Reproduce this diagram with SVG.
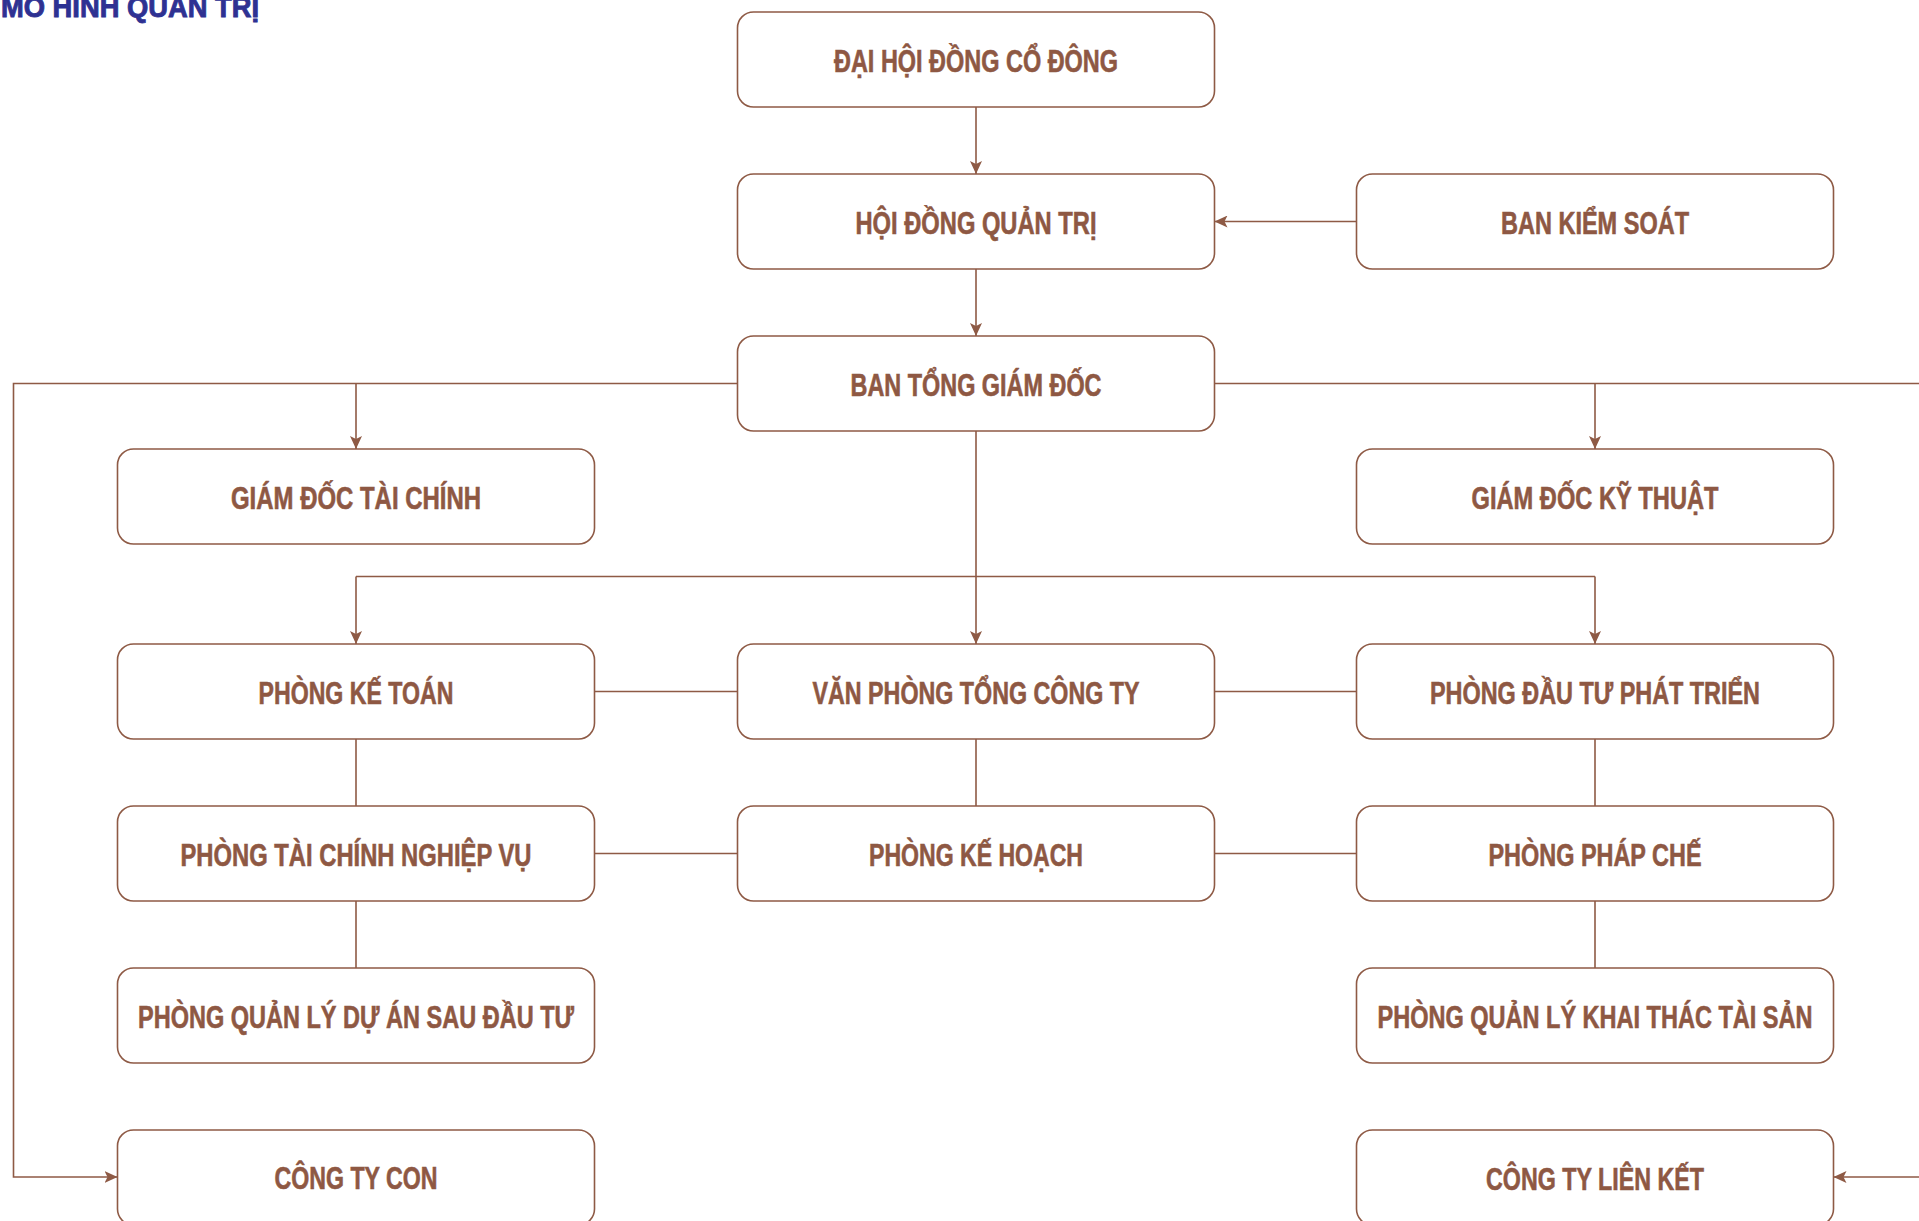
<svg xmlns="http://www.w3.org/2000/svg" width="1919" height="1221" viewBox="0 0 1919 1221">
<defs>
<marker id="arr" markerUnits="userSpaceOnUse" markerWidth="14" markerHeight="12" refX="13" refY="6" orient="auto">
<path d="M0,0 L13,6 L0,12 L3,6 z" fill="#8e5a45"/>
</marker>
<style>
.box{fill:#ffffff;stroke:#8e5a45;stroke-width:1.6}
.lbl{font-family:"Liberation Sans Narrow","Liberation Sans",Arial,sans-serif;font-weight:bold;font-size:31px;fill:#8e5843;stroke:#8e5843;stroke-width:0.6;text-anchor:middle}
.ln{fill:none;stroke:#8e5a45;stroke-width:1.6}
.title{font-family:"Liberation Sans",Arial,sans-serif;font-weight:bold;font-size:29px;fill:#2e3192;stroke:#2e3192;stroke-width:0.9}
</style>
</defs>
<rect width="1919" height="1221" fill="#ffffff"/>
<text class="title" x="1" y="17" textLength="258" lengthAdjust="spacingAndGlyphs">MÔ HÌNH QUẢN TRỊ</text>

<g id="connectors">
<path class="ln" d="M976,107 V174" marker-end="url(#arr)"/>
<path class="ln" d="M1356.5,221.5 H1214.5" marker-end="url(#arr)"/>
<path class="ln" d="M976,269 V336" marker-end="url(#arr)"/>
<path class="ln" d="M737.5,383.5 H13.5 V1177 H117.5" marker-end="url(#arr)"/>
<path class="ln" d="M356,383.5 V449" marker-end="url(#arr)"/>
<path class="ln" d="M1214.5,383.5 H1935 V1177 H1833.5" marker-end="url(#arr)"/>
<path class="ln" d="M1595,383.5 V449" marker-end="url(#arr)"/>
<path class="ln" d="M976,431 V644" marker-end="url(#arr)"/>
<path class="ln" d="M356,576.5 H1595"/>
<path class="ln" d="M356,576.5 V644" marker-end="url(#arr)"/>
<path class="ln" d="M1595,576.5 V644" marker-end="url(#arr)"/>
<path class="ln" d="M594.5,691.5 H737.5 M1214.5,691.5 H1356.5"/>
<path class="ln" d="M594.5,853.5 H737.5 M1214.5,853.5 H1356.5"/>
<path class="ln" d="M356,739 V806 M976,739 V806 M1595,739 V806 M356,901 V968 M1595,901 V968"/>
</g>

<g id="dhdcd"><rect class="box" x="737.5" y="12" width="477" height="95" rx="16"/><text class="lbl" x="976" y="72" textLength="284" lengthAdjust="spacingAndGlyphs">ĐẠI HỘI ĐỒNG CỔ ĐÔNG</text></g>
<g id="hdqt"><rect class="box" x="737.5" y="174" width="477" height="95" rx="16"/><text class="lbl" x="976" y="234" textLength="241" lengthAdjust="spacingAndGlyphs">HỘI ĐỒNG QUẢN TRỊ</text></g>
<g id="bks"><rect class="box" x="1356.5" y="174" width="477" height="95" rx="16"/><text class="lbl" x="1595" y="234" textLength="188" lengthAdjust="spacingAndGlyphs">BAN KIỂM SOÁT</text></g>
<g id="btgd"><rect class="box" x="737.5" y="336" width="477" height="95" rx="16"/><text class="lbl" x="976" y="396" textLength="251" lengthAdjust="spacingAndGlyphs">BAN TỔNG GIÁM ĐỐC</text></g>
<g id="gdtc"><rect class="box" x="117.5" y="449" width="477" height="95" rx="16"/><text class="lbl" x="356" y="509" textLength="250" lengthAdjust="spacingAndGlyphs">GIÁM ĐỐC TÀI CHÍNH</text></g>
<g id="gdkt"><rect class="box" x="1356.5" y="449" width="477" height="95" rx="16"/><text class="lbl" x="1595" y="509" textLength="247" lengthAdjust="spacingAndGlyphs">GIÁM ĐỐC KỸ THUẬT</text></g>
<g id="pkt"><rect class="box" x="117.5" y="644" width="477" height="95" rx="16"/><text class="lbl" x="356" y="704" textLength="195" lengthAdjust="spacingAndGlyphs">PHÒNG KẾ TOÁN</text></g>
<g id="vptct"><rect class="box" x="737.5" y="644" width="477" height="95" rx="16"/><text class="lbl" x="976" y="704" textLength="327" lengthAdjust="spacingAndGlyphs">VĂN PHÒNG TỔNG CÔNG TY</text></g>
<g id="pdtpt"><rect class="box" x="1356.5" y="644" width="477" height="95" rx="16"/><text class="lbl" x="1595" y="704" textLength="330" lengthAdjust="spacingAndGlyphs">PHÒNG ĐẦU TƯ PHÁT TRIỂN</text></g>
<g id="ptcnv"><rect class="box" x="117.5" y="806" width="477" height="95" rx="16"/><text class="lbl" x="356" y="866" textLength="351" lengthAdjust="spacingAndGlyphs">PHÒNG TÀI CHÍNH NGHIỆP VỤ</text></g>
<g id="pkh"><rect class="box" x="737.5" y="806" width="477" height="95" rx="16"/><text class="lbl" x="976" y="866" textLength="214" lengthAdjust="spacingAndGlyphs">PHÒNG KẾ HOẠCH</text></g>
<g id="ppc"><rect class="box" x="1356.5" y="806" width="477" height="95" rx="16"/><text class="lbl" x="1595" y="866" textLength="213" lengthAdjust="spacingAndGlyphs">PHÒNG PHÁP CHẾ</text></g>
<g id="pqlda"><rect class="box" x="117.5" y="968" width="477" height="95" rx="16"/><text class="lbl" x="356" y="1028" textLength="436" lengthAdjust="spacingAndGlyphs">PHÒNG QUẢN LÝ DỰ ÁN SAU ĐẦU TƯ</text></g>
<g id="pqlkt"><rect class="box" x="1356.5" y="968" width="477" height="95" rx="16"/><text class="lbl" x="1595" y="1028" textLength="435" lengthAdjust="spacingAndGlyphs">PHÒNG QUẢN LÝ KHAI THÁC TÀI SẢN</text></g>
<g id="ctcon"><rect class="box" x="117.5" y="1130" width="477" height="95" rx="16"/><text class="lbl" x="356" y="1189" textLength="163" lengthAdjust="spacingAndGlyphs">CÔNG TY CON</text></g>
<g id="ctlk"><rect class="box" x="1356.5" y="1130" width="477" height="95" rx="16"/><text class="lbl" x="1595" y="1190" textLength="218" lengthAdjust="spacingAndGlyphs">CÔNG TY LIÊN KẾT</text></g>
</svg>
